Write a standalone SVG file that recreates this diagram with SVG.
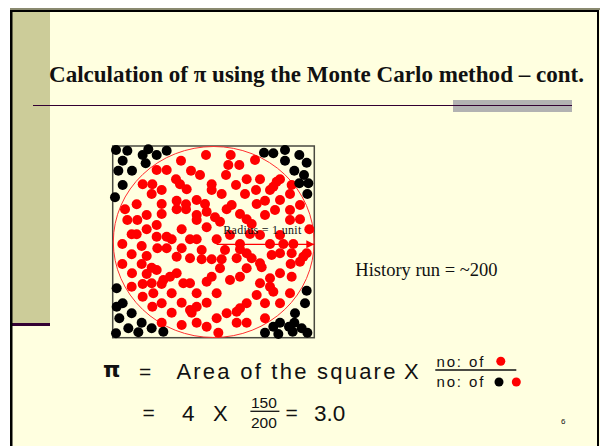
<svg xmlns="http://www.w3.org/2000/svg" width="600" height="446" viewBox="0 0 600 446">
<defs>
<style>
.r{fill:#ff0000}
.k{fill:#000000}
.ar{font-family:"Liberation Sans",Arial,sans-serif;fill:#111}
.tm{font-family:"Liberation Serif","Times New Roman",serif;fill:#111}
</style>
<marker id="ah" viewBox="0 0 10 10" refX="10" refY="5" markerWidth="8" markerHeight="8" markerUnits="userSpaceOnUse" orient="auto">
<path d="M0,0 L10,5 L0,10 z" fill="#ff0000"/>
</marker>
</defs>
<rect x="0" y="0" width="600" height="446" fill="#ffffff"/>
<rect x="10" y="10" width="590" height="436" fill="#ffffe0"/>
<rect x="12" y="12" width="38" height="311" fill="#cccc99"/>
<rect x="12" y="323" width="38" height="3" fill="#330033"/>
<rect x="10" y="8" width="590" height="2" fill="#8a8a70"/>
<rect x="10" y="10" width="589" height="2" fill="#000"/>
<rect x="10" y="10" width="2.5" height="436" fill="#000"/>
<rect x="597" y="10" width="2" height="436" fill="#000"/>

<g id="title">
<text x="49" y="82" class="tm" font-weight="bold" font-size="23" textLength="535" lengthAdjust="spacingAndGlyphs">Calculation of π using the Monte Carlo method – cont.</text>
</g>
<rect x="453" y="100" width="119" height="12" fill="#b2b2b2"/>
<line x1="33" y1="105.5" x2="572" y2="105.5" stroke="#330033" stroke-width="1.2"/>

<g id="montecarlo">
<rect x="112.7" y="146" width="201.6" height="191.7" fill="none" stroke="#4a4a40" stroke-width="1.5"/>
<ellipse cx="213.7" cy="242" rx="100.4" ry="95.5" fill="none" stroke="#ff3030" stroke-width="1"/>
<g transform="translate(100,140) scale(0.333333)">
<g class="r">
<circle cx="318" cy="45" r="15"/><circle cx="392" cy="45" r="15"/><circle cx="243" cy="62" r="15"/><circle cx="465" cy="60" r="15"/><circle cx="385" cy="75" r="15"/><circle cx="418" cy="75" r="15"/><circle cx="170" cy="90" r="15"/><circle cx="200" cy="90" r="15"/><circle cx="273" cy="92" r="15"/><circle cx="300" cy="105" r="15"/><circle cx="378" cy="105" r="15"/><circle cx="440" cy="118" r="15"/><circle cx="480" cy="118" r="15"/><circle cx="530" cy="125" r="15"/><circle cx="540" cy="118" r="15"/>
<circle cx="128" cy="133" r="15"/><circle cx="157" cy="133" r="15"/><circle cx="228" cy="118" r="15"/><circle cx="240" cy="133" r="15"/><circle cx="260" cy="148" r="15"/><circle cx="335" cy="133" r="15"/><circle cx="335" cy="150" r="15"/><circle cx="408" cy="135" r="15"/><circle cx="468" cy="150" r="15"/><circle cx="520" cy="140" r="15"/><circle cx="575" cy="135" r="15"/>
<circle cx="185" cy="150" r="15"/><circle cx="155" cy="162" r="15"/><circle cx="365" cy="162" r="15"/><circle cx="435" cy="162" r="15"/><circle cx="510" cy="150" r="15"/><circle cx="570" cy="162" r="15"/>
<circle cx="75" cy="208" r="15"/><circle cx="110" cy="193" r="15"/><circle cx="185" cy="192" r="15"/><circle cx="230" cy="182" r="15"/><circle cx="230" cy="208" r="15"/><circle cx="258" cy="193" r="15"/><circle cx="258" cy="208" r="15"/><circle cx="290" cy="180" r="15"/><circle cx="315" cy="192" r="15"/><circle cx="380" cy="208" r="15"/><circle cx="395" cy="195" r="15"/><circle cx="470" cy="192" r="15"/><circle cx="495" cy="182" r="15"/><circle cx="525" cy="210" r="15"/><circle cx="540" cy="180" r="15"/><circle cx="570" cy="210" r="15"/><circle cx="600" cy="195" r="15"/>
<circle cx="140" cy="225" r="15"/><circle cx="185" cy="222" r="15"/><circle cx="290" cy="225" r="15"/><circle cx="320" cy="215" r="15"/><circle cx="345" cy="232" r="15"/><circle cx="420" cy="222" r="15"/><circle cx="495" cy="225" r="15"/><circle cx="82" cy="240" r="15"/><circle cx="112" cy="240" r="15"/><circle cx="290" cy="240" r="15"/><circle cx="360" cy="245" r="15"/><circle cx="440" cy="238" r="15"/><circle cx="570" cy="240" r="15"/><circle cx="600" cy="238" r="15"/>
<circle cx="170" cy="255" r="15"/><circle cx="455" cy="252" r="15"/><circle cx="320" cy="262" r="15"/><circle cx="140" cy="268" r="15"/><circle cx="245" cy="268" r="15"/><circle cx="628" cy="268" r="15"/>
<circle cx="95" cy="283" r="15"/><circle cx="110" cy="283" r="15"/><circle cx="170" cy="290" r="15"/><circle cx="200" cy="290" r="15"/><circle cx="215" cy="298" r="15"/><circle cx="270" cy="298" r="15"/><circle cx="290" cy="298" r="15"/><circle cx="350" cy="298" r="15"/><circle cx="390" cy="285" r="15"/><circle cx="450" cy="282" r="15"/><circle cx="480" cy="285" r="15"/><circle cx="540" cy="285" r="15"/>
<circle cx="67" cy="312" r="15"/><circle cx="125" cy="318" r="15"/><circle cx="420" cy="312" r="15"/><circle cx="510" cy="312" r="15"/><circle cx="580" cy="312" r="15"/><circle cx="172" cy="325" r="15"/><circle cx="200" cy="325" r="15"/><circle cx="245" cy="325" r="15"/><circle cx="305" cy="330" r="15"/><circle cx="375" cy="330" r="15"/><circle cx="420" cy="328" r="15"/><circle cx="550" cy="312" r="15"/><circle cx="620" cy="340" r="15"/>
<circle cx="95" cy="343" r="15"/><circle cx="140" cy="348" r="15"/><circle cx="230" cy="350" r="15"/><circle cx="270" cy="355" r="15"/><circle cx="305" cy="358" r="15"/><circle cx="335" cy="358" r="15"/><circle cx="365" cy="358" r="15"/><circle cx="410" cy="355" r="15"/><circle cx="440" cy="340" r="15"/><circle cx="455" cy="355" r="15"/><circle cx="515" cy="345" r="15"/><circle cx="540" cy="340" r="15"/><circle cx="575" cy="340" r="15"/><circle cx="610" cy="350" r="15"/>
<circle cx="67" cy="372" r="15"/><circle cx="125" cy="372" r="15"/><circle cx="480" cy="370" r="15"/><circle cx="600" cy="365" r="15"/><circle cx="360" cy="385" r="15"/><circle cx="440" cy="385" r="15"/><circle cx="155" cy="383" r="15"/><circle cx="170" cy="390" r="15"/><circle cx="485" cy="382" r="15"/><circle cx="572" cy="372" r="15"/>
<circle cx="96" cy="400" r="15"/><circle cx="140" cy="402" r="15"/><circle cx="230" cy="400" r="15"/><circle cx="540" cy="400" r="15"/><circle cx="210" cy="410" r="15"/><circle cx="335" cy="410" r="15"/><circle cx="420" cy="410" r="15"/><circle cx="510" cy="415" r="15"/><circle cx="575" cy="410" r="15"/><circle cx="190" cy="420" r="15"/><circle cx="390" cy="420" r="15"/><circle cx="320" cy="425" r="15"/>
<circle cx="95" cy="440" r="15"/><circle cx="128" cy="432" r="15"/><circle cx="155" cy="430" r="15"/><circle cx="185" cy="432" r="15"/><circle cx="250" cy="430" r="15"/><circle cx="270" cy="430" r="15"/><circle cx="480" cy="430" r="15"/><circle cx="510" cy="440" r="15"/>
<circle cx="160" cy="460" r="15"/><circle cx="215" cy="460" r="15"/><circle cx="290" cy="460" r="15"/><circle cx="350" cy="460" r="15"/><circle cx="470" cy="465" r="15"/><circle cx="520" cy="455" r="15"/><circle cx="570" cy="460" r="15"/><circle cx="128" cy="470" r="15"/><circle cx="440" cy="490" r="15"/>
<circle cx="185" cy="490" r="15"/><circle cx="245" cy="488" r="15"/><circle cx="320" cy="488" r="15"/><circle cx="495" cy="490" r="15"/><circle cx="540" cy="490" r="15"/><circle cx="157" cy="500" r="15"/><circle cx="290" cy="500" r="15"/><circle cx="420" cy="505" r="15"/>
<circle cx="410" cy="515" r="15"/><circle cx="215" cy="518" r="15"/><circle cx="275" cy="518" r="15"/><circle cx="380" cy="520" r="15"/><circle cx="495" cy="535" r="15"/><circle cx="350" cy="535" r="15"/>
<circle cx="185" cy="548" r="15"/><circle cx="245" cy="555" r="15"/><circle cx="290" cy="548" r="15"/><circle cx="320" cy="560" r="15"/><circle cx="410" cy="548" r="15"/><circle cx="440" cy="548" r="15"/><circle cx="355" cy="578" r="15"/><circle cx="270" cy="510" r="15"/>
</g>
<g class="k">
<circle cx="48" cy="30" r="15"/><circle cx="82" cy="32" r="15"/><circle cx="145" cy="28" r="15"/><circle cx="128" cy="45" r="15"/><circle cx="170" cy="45" r="15"/><circle cx="200" cy="32" r="15"/><circle cx="68" cy="62" r="15"/><circle cx="137" cy="70" r="15"/><circle cx="55" cy="92" r="15"/><circle cx="96" cy="92" r="15"/><circle cx="68" cy="135" r="15"/><circle cx="45" cy="172" r="15"/>
<circle cx="492" cy="38" r="15"/><circle cx="520" cy="40" r="15"/><circle cx="555" cy="30" r="15"/><circle cx="598" cy="45" r="15"/><circle cx="620" cy="68" r="15"/><circle cx="555" cy="62" r="15"/><circle cx="583" cy="92" r="15"/><circle cx="612" cy="105" r="15"/><circle cx="598" cy="130" r="15"/><circle cx="625" cy="130" r="15"/><circle cx="622" cy="162" r="15"/>
<circle cx="50" cy="445" r="15"/><circle cx="68" cy="490" r="15"/><circle cx="50" cy="500" r="15"/><circle cx="95" cy="520" r="15"/><circle cx="58" cy="535" r="15"/><circle cx="125" cy="548" r="15"/><circle cx="85" cy="565" r="15"/><circle cx="48" cy="580" r="15"/><circle cx="115" cy="577" r="15"/><circle cx="155" cy="565" r="15"/><circle cx="190" cy="575" r="15"/>
<circle cx="620" cy="452" r="15"/><circle cx="615" cy="490" r="15"/><circle cx="585" cy="520" r="15"/><circle cx="540" cy="548" r="15"/><circle cx="520" cy="560" r="15"/><circle cx="583" cy="548" r="15"/><circle cx="605" cy="565" r="15"/><circle cx="495" cy="578" r="15"/><circle cx="535" cy="582" r="15"/><circle cx="578" cy="575" r="15"/><circle cx="622" cy="578" r="15"/><circle cx="567" cy="560" r="15"/>
</g>
</g>
<text x="223.3" y="234.3" class="tm" font-size="12" fill="#333" textLength="78" lengthAdjust="spacing">Radius  = 1 unit</text>
</g>
<g id="connectors">
<line x1="216.7" y1="244.3" x2="314.3" y2="244.3" stroke="#ff0000" stroke-width="1.3" marker-end="url(#ah)"/>
</g>

<g id="history">
<text x="355.3" y="276" class="tm" font-size="18.5">History run = ~200</text>
</g>

<g id="formula">
<text x="103" y="377" font-family="'DejaVu Sans',sans-serif" font-weight="bold" font-size="22" fill="#111">π</text>
<text x="139" y="379" class="ar" font-size="21">=</text>
<text x="176.4" y="379" class="ar" font-size="22" textLength="219" lengthAdjust="spacing">Area of  the square</text>
<text x="404" y="379" class="ar" font-size="22">X</text>
<text x="436.4" y="366.9" class="ar" font-size="15" textLength="47" lengthAdjust="spacing">no: of</text>
<circle cx="500.8" cy="361.3" r="4.5" fill="#ff0000"/>
<line x1="435.3" y1="370" x2="516.3" y2="370" stroke="#111" stroke-width="1.3"/>
<text x="436.4" y="387.2" class="ar" font-size="15" textLength="47" lengthAdjust="spacing">no: of</text>
<circle cx="499" cy="382" r="4.5" fill="#000"/>
<circle cx="516.3" cy="382" r="4.5" fill="#ff0000"/>
<text x="142.6" y="420" class="ar" font-size="21">=</text>
<text x="182" y="421" class="ar" font-size="22.5">4</text>
<text x="213" y="421" class="ar" font-size="22">X</text>
<text x="251" y="408.2" class="ar" font-size="15.5">150</text>
<line x1="250.4" y1="411.3" x2="279.4" y2="411.3" stroke="#111" stroke-width="1.3"/>
<text x="251" y="427.8" class="ar" font-size="15.5">200</text>
<text x="285.6" y="420" class="ar" font-size="21">=</text>
<text x="314" y="421" class="ar" font-size="22.5">3.0</text>
<text x="561" y="424" class="ar" font-size="8" fill="#444">6</text>
</g>
</svg>
